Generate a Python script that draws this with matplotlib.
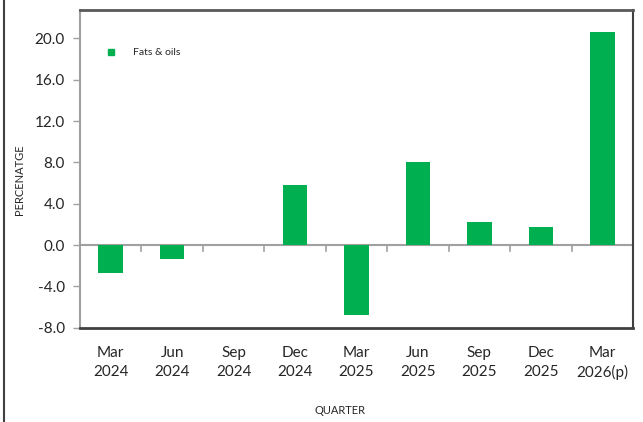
import matplotlib
matplotlib.use("Agg")
import matplotlib.pyplot as plt
from matplotlib.lines import Line2D
import numpy as np

categories = ["Mar\n2024", "Jun\n2024", "Sep\n2024", "Dec\n2024", "Mar\n2025",
              "Jun\n2025", "Sep\n2025", "Dec\n2025", "Mar\n2026(p)"]
values = [-2.68, -1.38, 0.0, 5.8, -6.75, 8.05, 2.26, 1.74, 20.6]
yticks = [-8.0, -4.0, 0.0, 4.0, 8.0, 12.0, 16.0, 20.0]
series_name = "Fats & oils"

plt.rcParams['font.family'] = ['Lato', 'DejaVu Sans']
txt = '#262626'

fig = plt.figure(figsize=(6.43, 4.22), dpi=100)
ax = fig.add_axes([80/643, (422-327.7)/422, (633-80)/643, (327.7-10)/422])

x = np.arange(len(categories))
ax.bar(x, values, width=0.4, color='#00B050', linewidth=0, zorder=3)
ax.set_xlim(-0.5, len(categories) - 0.5)
ax.set_ylim(-8, 22.75)

ax.axhline(0, color='#a0a0a0', lw=1.5, zorder=2)
# category boundary ticks on the zero line
for b in np.arange(0.5, len(categories) - 0.5, 1.0):
    ax.plot([b, b], [0, -0.55], color='#a0a0a0', lw=1.2, zorder=2, clip_on=False)

ax.set_yticks(yticks)
ax.set_yticklabels([f"{v:.1f}" for v in yticks], fontsize=11, color=txt)
ax.tick_params(axis='y', length=5, width=1, color='#a0a0a0', pad=6)
ax.set_xticks(x)
ax.set_xticklabels(categories, fontsize=11, color=txt, linespacing=1.45)
ax.tick_params(axis='x', length=0, pad=13)

ax.spines['left'].set_color('#a0a0a0')
ax.spines['left'].set_linewidth(1.5)
ax.spines['top'].set_color('#595959')
ax.spines['top'].set_linewidth(2)
ax.spines['bottom'].set_color('#404040')
ax.spines['bottom'].set_linewidth(2)
ax.spines['right'].set_color('#404040')
ax.spines['right'].set_linewidth(1.5)

fig.text(20/643, 1 - 180/422, "PERCENATGE", fontsize=8, color=txt,
         rotation=90, ha='center', va='center')
fig.text(340/643, 1 - 410/422, "QUARTER", fontsize=8, color=txt,
         ha='center', va='center')

handle = Line2D([], [], marker='s', color='none', markerfacecolor='#00B050',
                markeredgecolor='#00B050', markersize=5)
ax.legend([handle], [series_name], loc='upper left', bbox_to_anchor=(0.021, 0.91),
          frameon=False, fontsize=7.5, handletextpad=1.1, labelcolor=txt)

# figure border on the left
fig.add_artist(Line2D([3.5/643, 3.5/643], [0, 1], transform=fig.transFigure,
                      color='#404040', lw=1.5))

fig.savefig("out.png", dpi=100)
